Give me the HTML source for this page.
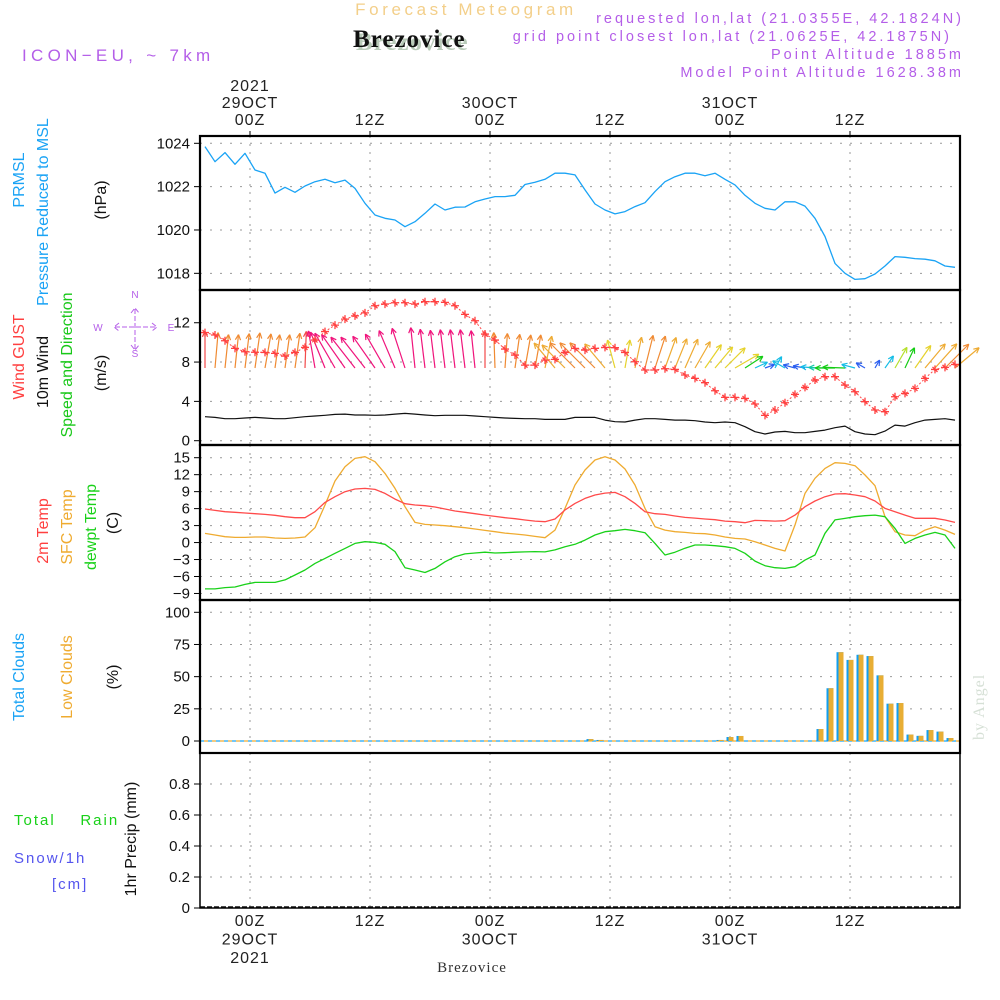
<!DOCTYPE html>
<html><head><meta charset="utf-8"><title>Forecast Meteogram Brezovice</title>
<style>
html,body{margin:0;padding:0;background:#fff;}
svg{display:block;font-family:"Liberation Sans",sans-serif;}
.tk{font-size:15px;fill:#111;}
.tm{font-size:16px;fill:#222;letter-spacing:1px;}
.pre{white-space:pre;}
</style></head>
<body>
<svg id="chart" width="1000" height="1000" viewBox="0 0 1000 1000" xmlns="http://www.w3.org/2000/svg">
<text x="466" y="15" text-anchor="middle" font-size="17" fill="#f3cf8a" letter-spacing="3.6">Forecast Meteogram</text>
<text x="356" y="50" font-family="Liberation Serif,serif" font-weight="bold" font-size="25" fill="#b9cbb9" letter-spacing="1">Brezovice</text>
<text x="353" y="47" font-family="Liberation Serif,serif" font-weight="bold" font-size="25" fill="#111" letter-spacing="1">Brezovice</text>
<text x="22" y="61" font-size="17" fill="#b45ee8" letter-spacing="4.3">ICON−EU, ~ 7km</text>
<g font-size="14.5" fill="#b45ee8" text-anchor="end" letter-spacing="3">
<text x="964" y="23">requested lon,lat (21.0355E, 42.1824N)</text>
<text x="952" y="41">grid point closest lon,lat (21.0625E, 42.1875N)</text>
<text x="964" y="59">Point Altitude 1885m</text>
<text x="964" y="77">Model Point Altitude 1628.38m</text>
</g>
<g id="grid"></g>
<g id="marks"></g>
<g id="frames"></g>
<g id="labels"></g>
<text transform="translate(984,740) rotate(-90)" font-family="Liberation Serif,serif" font-size="16" fill="#d6e0d6" letter-spacing="1">by Angel</text>
<text x="472" y="972" text-anchor="middle" font-family="Liberation Serif,serif" font-size="15" fill="#333" letter-spacing="1">Brezovice</text>
</svg>
<script>
// ---- data (hourly, 76 steps starting 19:30Z 28OCT) ----
const pressure=[1023.85,1023.15,1023.57,1023.03,1023.54,1022.77,1022.62,1021.7,1021.97,1021.74,1022.03,1022.23,1022.34,1022.18,1022.3,1021.92,1021.23,1020.69,1020.54,1020.46,1020.15,1020.38,1020.77,1021.2,1020.92,1021.05,1021.06,1021.3,1021.43,1021.54,1021.54,1021.6,1022.1,1022.2,1022.34,1022.62,1022.62,1022.54,1021.85,1021.2,1020.92,1020.74,1020.85,1021.08,1021.26,1021.77,1022.23,1022.46,1022.62,1022.62,1022.5,1022.62,1022.34,1022.08,1021.6,1021.23,1021.0,1020.92,1021.3,1021.3,1021.1,1020.54,1019.7,1018.46,1018.0,1017.72,1017.75,1017.97,1018.34,1018.77,1018.74,1018.68,1018.65,1018.58,1018.34,1018.28];
const gust=[11.0,10.75,10.17,9.39,9.05,9.0,8.98,8.88,8.61,8.98,9.49,10.24,11.1,11.76,12.37,12.7,13.0,13.73,13.9,14.03,14.03,13.9,14.14,14.14,14.07,13.73,12.85,12.2,10.85,10.24,9.32,8.71,7.69,7.69,8.2,8.27,8.98,9.39,9.22,9.39,9.49,9.46,8.98,8.03,7.19,7.19,7.32,7.25,6.68,6.34,5.9,5.08,4.41,4.41,4.3,3.73,2.58,3.12,3.86,4.71,5.42,6.17,6.51,6.51,5.66,4.98,3.97,3.12,2.95,4.47,4.81,5.32,6.34,7.25,7.46,7.76];
const wind10=[2.44,2.37,2.24,2.24,2.31,2.37,2.31,2.24,2.24,2.34,2.44,2.51,2.58,2.68,2.71,2.61,2.61,2.58,2.61,2.71,2.78,2.71,2.61,2.54,2.58,2.58,2.58,2.51,2.44,2.37,2.31,2.27,2.24,2.24,2.17,2.17,2.17,2.37,2.37,2.37,2.10,1.93,1.90,2.10,2.24,2.24,2.17,2.10,2.10,2.03,1.90,1.83,1.90,1.83,1.42,0.92,0.68,0.88,0.95,0.81,0.81,0.95,1.08,1.32,1.49,0.92,0.68,0.61,0.98,1.59,1.49,1.83,2.10,2.17,2.24,2.10];
const windDir=[90,85,84,84,83,82,80,82,82,82,88,100,112,120,125,128,128,125,120,113,108,96,97,97,97,97,97,96,90,92,86,82,80,80,78,130,135,135,135,135,130,105,80,78,76,72,70,68,66,60,55,50,45,30,33,25,20,60,150,165,170,175,178,180,178,165,150,60,55,60,65,55,50,48,45,40];
const t2m=[5.93,5.69,5.45,5.34,5.22,5.1,4.98,4.81,4.57,4.39,4.39,5.45,7.1,8.11,8.99,9.46,9.58,9.4,8.69,7.69,6.87,6.63,6.51,6.28,5.93,5.57,5.34,5.1,4.86,4.63,4.39,4.22,3.98,3.8,3.69,4.16,5.75,6.93,7.81,8.4,8.75,8.87,8.11,6.93,5.45,5.1,4.98,4.69,4.45,4.33,4.16,4.04,3.8,3.69,3.51,3.92,3.86,3.8,3.86,4.86,6.34,7.34,8.11,8.58,8.64,8.4,8.11,7.34,6.04,5.45,4.86,4.28,4.28,4.28,3.98,3.57];
const tsfc=[1.62,1.33,1.03,0.92,0.92,0.98,0.98,0.8,0.74,0.8,0.98,2.63,6.63,10.88,13.41,14.88,15.18,14.29,12.23,9.58,6.34,3.57,3.21,3.1,2.98,2.8,2.63,2.39,2.15,1.92,1.68,1.51,1.33,1.09,0.86,2.21,6.04,10.17,12.82,14.59,15.18,14.59,13.0,10.17,6.04,2.8,2.21,1.92,1.8,1.62,1.56,1.33,0.98,0.74,0.62,0.15,-0.44,-1.03,-1.5,3.1,8.69,11.35,13.11,14.12,14.0,13.59,11.94,10.05,4.57,1.92,1.33,1.21,2.21,2.8,2.21,1.45];
const tdew=[-8.2,-8.2,-7.97,-7.86,-7.4,-7.04,-7.04,-7.04,-6.6,-5.74,-4.86,-3.68,-2.8,-1.9,-1.03,-0.15,0.15,0.03,-0.3,-1.6,-4.45,-4.86,-5.3,-4.56,-3.4,-2.5,-2.0,-1.85,-1.7,-1.85,-1.8,-1.7,-1.65,-1.6,-1.65,-1.3,-0.73,-0.3,0.44,1.33,1.92,2.1,2.33,2.1,1.74,-0.15,-2.2,-1.7,-1.0,-0.44,-0.44,-0.56,-0.73,-1.03,-1.9,-3.27,-4.1,-4.45,-4.56,-4.27,-3.1,-2.2,1.63,4.0,4.27,4.57,4.75,4.86,4.57,2.5,-0.15,0.74,1.33,1.8,1.33,-1.03];
const totalClouds=[0,0,0,0,0,0,0,0,0,0,0,0,0,0,0,0,0,0,0,0,0,0,0,0,0,0,0,0,0,0,0,0,0,0,0,0,0,0,1.5,0.8,0,0,0,0,0,0,0,0,0,0,0,0.8,3.1,3.9,0,0,0,0,0,0,0,9.3,41,69,63,67,66,51,29,29.5,5,4,8.5,7.3,2.3,0];
const lowClouds=[0,0,0,0,0,0,0,0,0,0,0,0,0,0,0,0,0,0,0,0,0,0,0,0,0,0,0,0,0,0,0,0,0,0,0,0,0,0,1.5,0.8,0,0,0,0,0,0,0,0,0,0,0,0.8,3.1,3.9,0,0,0,0,0,0,0,9.3,41,69,63,67,66,51,29,29.5,5,4,8.5,7.3,2.3,0];
const precip=[0,0,0,0,0,0,0,0,0,0,0,0,0,0,0,0,0,0,0,0,0,0,0,0,0,0,0,0,0,0,0,0,0,0,0,0,0,0,0,0,0,0,0,0,0,0,0,0,0,0,0,0,0,0,0,0,0,0,0,0,0,0,0,0,0,0,0,0,0,0,0,0,0,0,0,0];
const pTicks=[1018,1020,1022,1024];
const wTicks=[0,4,8,12];
const tTicks=[-9,-6,-3,0,3,6,9,12,15];
const cTicks=[0,25,50,75,100];
const rTicks=["0","0.2","0.4","0.6","0.8"];
const timeTicksTop=[["2021","29OCT","00Z"],["","","12Z"],["","30OCT","00Z"],["","","12Z"],["","31OCT","00Z"],["","","12Z"]];
const timeTicksBottom=[["00Z","29OCT","2021"],["12Z","",""],["00Z","30OCT",""],["12Z","",""],["00Z","31OCT",""],["12Z","",""]];
const tickHours=[0,12,24,36,48,60];

// ---- axes ----
const X0=200,X1=960;
const xh=h=>250+h*10;
const xi=i=>xh(i-4.5);
const yP=v=>143.3+(1024-v)*21.67;
const yW=v=>440.7-v*9.83;
const yT=v=>457.7+(15-v)*5.657;
const yC=v=>741-v*1.287;
const yR=v=>908-v*155;
const panels=[[136,290],[290,445],[445,600],[600,753],[753,908]];

const NS='http://www.w3.org/2000/svg';
function mk(tag,attrs,parent){const e=document.createElementNS(NS,tag);for(const k in attrs)e.setAttribute(k,attrs[k]);parent.appendChild(e);return e;}
const grid=document.getElementById('grid'),marks=document.getElementById('marks'),frames=document.getElementById('frames'),labels=document.getElementById('labels');

panels.forEach(p=>{tickHours.forEach(h=>{const l=mk('line',{x1:xh(h),x2:xh(h),y1:p[0],y2:p[1],stroke:'#999','stroke-width':1,'stroke-dasharray':'2,6'},grid);

});});
function hgrid(ticks,yf,name){ticks.forEach(t=>{const v=parseFloat(t);const l=mk('line',{x1:X0,x2:X1,y1:yf(v),y2:yf(v),stroke:'#999','stroke-width':1,'stroke-dasharray':'2,8'},grid);

});}
hgrid(pTicks,yP,'pressure-grid-line');hgrid(wTicks,yW,'wind-grid-line');hgrid(tTicks,yT,'temp-grid-line');hgrid(cTicks,yC,'cloud-grid-line');hgrid(rTicks,yR,'precip-grid-line');

function polyline(arr,yf,color,name,w){const pts=arr.map((v,i)=>xi(i).toFixed(1)+','+yf(v).toFixed(1)).join(' ');
const p=mk('polyline',{points:pts,fill:'none',stroke:color,'stroke-width':w||1.3,'stroke-linejoin':'round'},marks);

return p;}

polyline(pressure,yP,'#1aa3f5','pressure-line');
function windColor(s){if(s>=2.5)return '#f0147c';if(s>=2.4)return '#f24a4a';if(s>=2.2)return '#f08a32';if(s>=2.0)return '#eeab33';if(s>=1.8)return '#e6d22c';if(s>=1.55)return '#b6e02c';if(s>=1.3)return '#14cc14';if(s>=1.05)return '#14c8a6';if(s>=0.85)return '#14bde6';return '#2a5ef0';}
wind10.forEach((s,i)=>{const L=15*s,a=windDir[i]*Math.PI/180;const x=xi(i),y=368;const tx=x+L*Math.cos(a),ty=y-L*Math.sin(a);const c=windColor(s);
const g=mk('g',{stroke:c,'stroke-width':1.2,fill:'none'},marks);


mk('line',{x1:x,y1:y,x2:tx,y2:ty},g);
[0.45,-0.45].forEach(d=>{const b=a+Math.PI+d;mk('line',{x1:tx,y1:ty,x2:tx+6*Math.cos(b),y2:ty-6*Math.sin(b)},g);});});
polyline(wind10,yW,'#111','wind-speed-line',1.2);
polyline(gust,yW,'#ff4b4b','wind-gust-line',1).setAttribute('stroke-dasharray','2,2');
gust.forEach((v,i)=>{const x=xi(i),y=yW(v);const g=mk('path',{d:`M${x-4},${y}H${x+4}M${x},${y-4}V${y+4}M${x-2.5},${y-2.5}L${x+2.5},${y+2.5}`,stroke:'#ff4040','stroke-width':1.3},marks);

});
polyline(tsfc,yT,'#efab30','sfc-temp-line');
polyline(t2m,yT,'#ff4a4a','2m-temp-line');
polyline(tdew,yT,'#19d119','dewpoint-line');
const bl=mk('line',{x1:X0,x2:X1,y1:yC(0),y2:yC(0),stroke:'#1aa3f5','stroke-width':1.2,'stroke-dasharray':'4,4'},marks);


const bl2=mk('line',{x1:X0+4,x2:X1,y1:yC(0),y2:yC(0),stroke:'#efab30','stroke-width':1.2,'stroke-dasharray':'4,4'},marks);


totalClouds.forEach((v,i)=>{if(v<=0)return;const x=xi(i)+1.5;
const r=mk('rect',{x:x,y:yC(v),width:7,height:yC(0)-yC(v),fill:'#119ef0'},marks);


const lv=lowClouds[i];const r2=mk('rect',{x:x+2,y:yC(lv),width:5,height:yC(0)-yC(lv),fill:'#e8ae34'},marks);

});
precip.forEach((v,i)=>{if(v<=0)return;const r=mk('rect',{x:xi(i)-3,y:yR(v),width:6,height:yR(0)-yR(v),fill:'#19d119'},marks);

});
const pz=mk('line',{x1:X0,x2:X1,y1:907,y2:907,stroke:'#111','stroke-width':1.6,'stroke-dasharray':'5,2'},marks);



panels.forEach((p,k)=>{const r=mk('rect',{x:X0,y:p[0],width:X1-X0,height:p[1]-p[0],fill:'none',stroke:'#000','stroke-width':k==4?1.5:2.2},frames);

});
tickHours.forEach(h=>{const t=mk('line',{x1:xh(h),x2:xh(h),y1:131,y2:136,stroke:'#000'},frames);

});
function yticks(ticks,yf,name){ticks.forEach(t=>{const v=parseFloat(t);const y=yf(v);
const l=mk('line',{x1:X0-6,x2:X0,y1:y,y2:y,stroke:'#000'},frames);


const tx=mk('text',{x:X0-10,y:y+5,'text-anchor':'end',class:'tk'},labels);tx.textContent=(typeof t==='number'&&t<0)?'−'+(-t):String(t);

});}
yticks(pTicks,yP,'pressure');yticks(wTicks,yW,'wind');yticks(tTicks,yT,'temp');yticks(cTicks,yC,'cloud');yticks(rTicks,yR,'precip');
tickHours.forEach((h,k)=>{const x=xh(h);timeTicksTop[k].forEach((s,j)=>{if(!s)return;const t=mk('text',{x:x,y:91+j*17,'text-anchor':'middle',class:'tm'},labels);t.textContent=s;

});
timeTicksBottom[k].forEach((s,j)=>{if(!s)return;const t=mk('text',{x:x,y:926+j*18.5,'text-anchor':'middle',class:'tm'},labels);t.textContent=s;

});});
const vlabels=[
['PRMSL',18,180,'#1aa3f5','pressure-series-label'],['Pressure Reduced to MSL',42,212,'#1aa3f5','pressure-title'],['(hPa)',100,200,'#111','pressure-unit'],
['Wind GUST',18,357,'#ff4040','gust-series-label'],['10m Wind',42,372,'#111','wind-series-label'],['Speed and Direction',66,365,'#19c819','wind-direction-label'],['(m/s)',100,373,'#111','wind-unit'],
['2m Temp',42,531,'#ff4040','2m-temp-label'],['SFC Temp',66,527,'#efab30','sfc-temp-label'],['dewpt Temp',90,527,'#19d119','dewpoint-label'],['(C)',112,523,'#111','temp-unit'],
['Total Clouds',18,677,'#1aa3f5','total-clouds-label'],['Low Clouds',66,677,'#efab30','low-clouds-label'],['(%)',112,677,'#111','cloud-unit'],
['1hr Precip (mm)',130,839,'#111','precip-title']];
vlabels.forEach(v=>{const t=mk('text',{transform:`translate(${v[1]+6},${v[2]}) rotate(-90)`,'text-anchor':'middle','font-size':16,fill:v[3]},labels);t.textContent=v[0];

});
const hl=[['Total    Rain',14,825,'#19d119','rain-legend'],['Snow/1h',14,863,'#5555ee','snow-legend'],['[cm]',52,889,'#5555ee','snow-unit']];
hl.forEach(v=>{const t=mk('text',{x:v[1],y:v[2],'font-size':15,fill:v[3],'letter-spacing':2,class:'pre'},labels);t.textContent=v[0];

});
const cg=mk('g',{fill:'#b45ee8','font-size':10,'text-anchor':'middle'},labels);


[['N',135,298],['S',135,357],['W',98,331],['E',171,331]].forEach(a=>{const t=mk('text',{x:a[1],y:a[2]},cg);t.textContent=a[0];});
mk('path',{d:'M115,327H156M135,309V350M119,323L114,327L119,331M152,323L157,327L152,331M131,313L135,308L139,313M131,345L135,350L139,345',stroke:'#b45ee8','stroke-width':1,fill:'none','stroke-dasharray':'5,2'},cg);
</script>
</body></html>
